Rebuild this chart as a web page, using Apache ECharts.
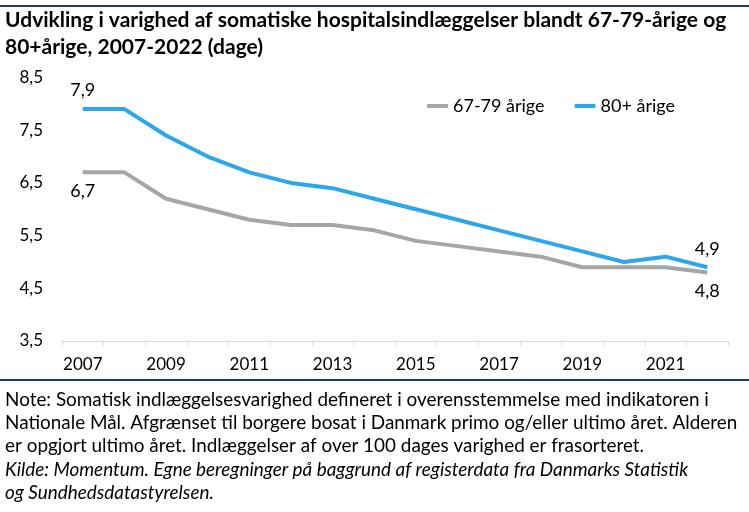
<!DOCTYPE html>
<html><head><meta charset="utf-8">
<script src="https://cdn.jsdelivr.net/npm/echarts@6/dist/echarts.min.js"></script>
<style>html,body{margin:0;padding:0;background:#fff}#c{width:749px;height:512px}</style>
</head><body><div id="c"></div>
<script>
const years = ['2007','2008','2009','2010','2011','2012','2013','2014','2015','2016','2017','2018','2019','2020','2021','2022'];
const age6779 = [6.7,6.7,6.2,6.0,5.8,5.7,5.7,5.6,5.4,5.3,5.2,5.1,4.9,4.9,4.9,4.8];
const age80 = [7.9,7.9,7.4,7.0,6.7,6.5,6.4,6.2,6.0,5.8,5.6,5.4,5.2,5.0,5.1,4.9];
const yTicks = [3.5,4.5,5.5,6.5,7.5,8.5];
const seriesNames = ['67-79 årige','80+ årige'];
const titleText = 'Udvikling i varighed af somatiske hospitalsindlæggelser blandt 67-79-årige og\n80+årige, 2007-2022 (dage)';
const noteText = 'Note: Somatisk indlæggelsesvarighed defineret i overensstemmelse med indikatoren i\nNationale Mål. Afgrænset til borgere bosat i Danmark primo og/eller ultimo året. Alderen\ner opgjort ultimo året. Indlæggelser af over 100 dages varighed er frasorteret.';
const sourceText = 'Kilde: Momentum. Egne beregninger på baggrund af registerdata fra Danmarks Statistik\nog Sundhedsdatastyrelsen.';

const FONT = 'Lato';
const fmt = v => v.toFixed(1).replace('.', ',');
function withEndLabels(arr, pos) {
  return arr.map((v, i) => (i === 0 || i === arr.length - 1)
    ? { value: v, label: { show: true, position: pos, distance: 9, formatter: p => fmt(p.value), fontFamily: FONT, fontSize: 18, color: '#000' } }
    : v);
}
const chart = echarts.init(document.getElementById('c'), null, { renderer: 'canvas' });
chart.setOption({
  animation: false,
  backgroundColor: '#fff',
  title: [
    { text: titleText, left: 5, top: 7, padding: 0,
      textStyle: { fontFamily: FONT, fontWeight: 'bold', fontSize: 21, lineHeight: 27, color: '#000' } },
    { text: noteText, left: 5, top: 388, padding: 0,
      textStyle: { fontFamily: FONT, fontWeight: 'normal', fontSize: 18.9, lineHeight: 23.3, color: '#000' } },
    { text: sourceText, left: 5, top: 457.9, padding: 0,
      textStyle: { fontFamily: FONT, fontWeight: 'normal', fontStyle: 'italic', fontSize: 18.9, lineHeight: 23.3, color: '#000' } }
  ],
  graphic: [
    { type: 'rect', shape: { x: 0, y: 5, width: 749, height: 2 }, style: { fill: '#203864' } },
    { type: 'rect', shape: { x: 0, y: 379, width: 749, height: 2 }, style: { fill: '#203864' } }
  ],
  legend: {
    left: 427, top: 97, padding: 0, itemWidth: 21, itemHeight: 4, itemGap: 30, icon: 'roundRect',
    textStyle: { fontFamily: FONT, fontSize: 18, color: '#000' },
    data: seriesNames
  },
  grid: { left: 62, right: 21, top: 77.5, bottom: 171, containLabel: false },
  xAxis: {
    type: 'category', data: years, boundaryGap: true,
    axisLine: { lineStyle: { color: '#D9D9D9', width: 1 } },
    axisTick: { show: true, interval: 0, length: 5, lineStyle: { color: '#D9D9D9' } },
    axisLabel: { interval: 1, margin: 15, fontFamily: FONT, fontSize: 17, color: '#000' },
    splitLine: { show: false }
  },
  yAxis: {
    type: 'value', min: 3.5, max: 8.5,
    axisLine: { show: false }, axisTick: { show: false }, splitLine: { show: false },
    axisLabel: { customValues: yTicks, margin: 19, fontFamily: FONT, fontSize: 17, color: '#000', formatter: v => fmt(v) }
  },
  series: [
    { name: seriesNames[0], type: 'line', data: withEndLabels(age6779, 'bottom'), symbol: 'circle', symbolSize: 1, showSymbol: true,
      lineStyle: { color: '#A6A6A6', width: 4 }, itemStyle: { color: '#A6A6A6' } },
    { name: seriesNames[1], type: 'line', data: withEndLabels(age80, 'top'), symbol: 'circle', symbolSize: 1, showSymbol: true,
      lineStyle: { color: '#2EA7E9', width: 4 }, itemStyle: { color: '#2EA7E9' } }
  ]
});
</script></body></html>
